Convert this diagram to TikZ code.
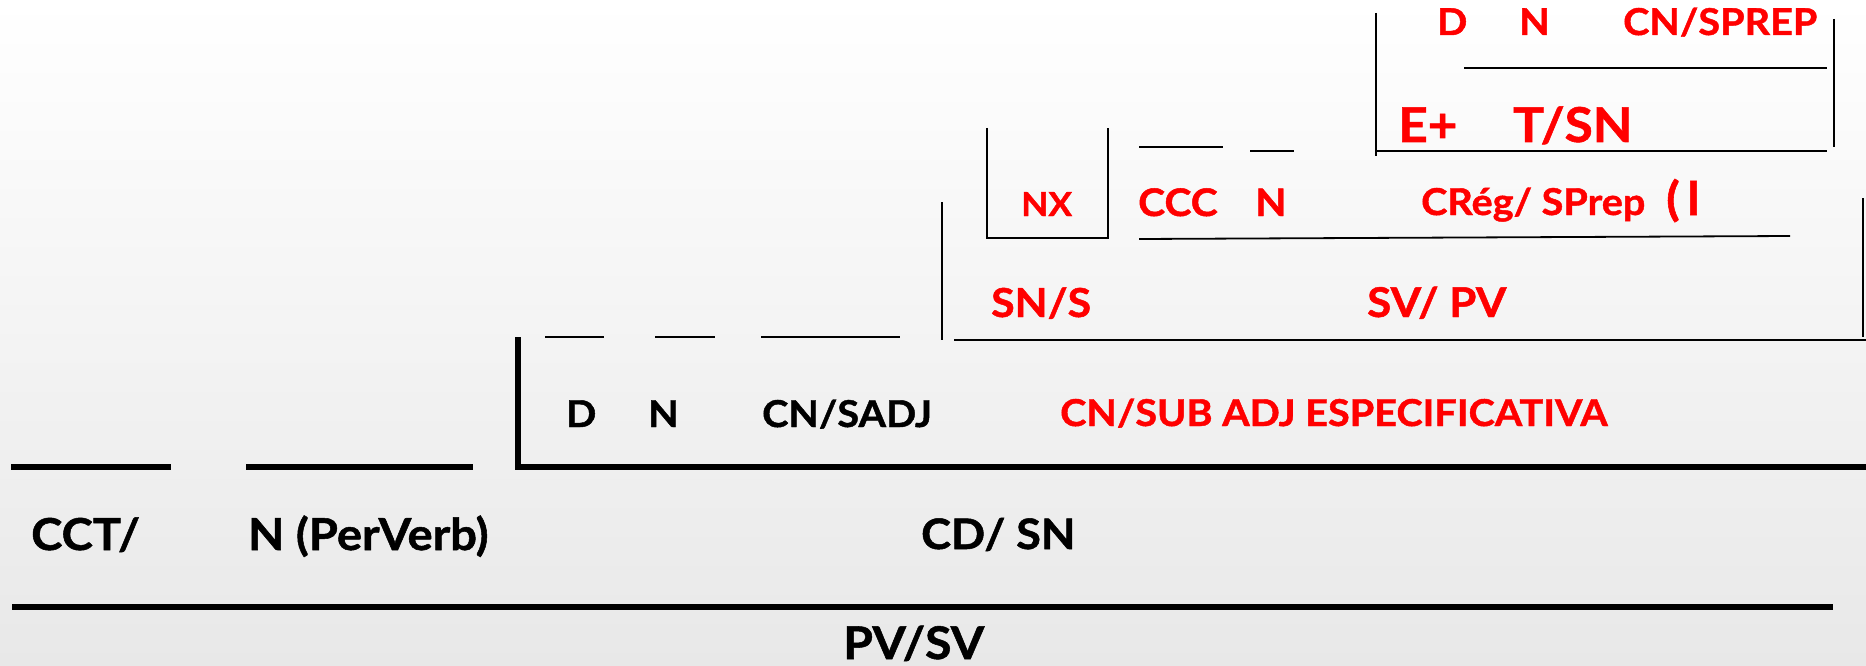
\documentclass[tikz,border=0pt]{standalone}
\usepackage{fontspec}
\setmainfont{Lato}[BoldFeatures={FakeBold=1.2,FakeStretch=1.07}]
\newcommand\fsz[1]{\fontsize{#1}{#1}\selectfont}
\begin{document}
\begin{tikzpicture}[x=1pt,y=-1pt,
  lab/.style={inner sep=0pt, anchor=base west, font=\bfseries},
  redlab/.style={lab, text=red},
  heavy/.style={line width=5.5pt},
  fine/.style={line width=1.8pt}]
\shade[top color=white, bottom color=black!9] (0,0) rectangle (1866,666);
\useasboundingbox (0,0) rectangle (1866,666);

% heavy lines
\draw[heavy] (12,607) -- (1833,607);
\draw[heavy] (11,467) -- (171,467);
\draw[heavy] (246,467) -- (473,467);
\draw[heavy] (518,337) -- (518,467) -- (1866,467);

% short lines above D N CN/SADJ
\draw[fine] (545,337) -- (604,337);
\draw[fine] (655,337) -- (715,337);
\draw[fine] (761,337) -- (900,337);

% SN/S bracket
\draw[fine] (942,202) -- (942,340);
\draw[fine] (954,340) -- (1866,340);
\draw[fine] (1863,198) -- (1863,337);

% NX box
\draw[fine] (987,128) -- (987,238) -- (1108,238) -- (1108,128);

% short lines above CCC N
\draw[fine] (1139,147) -- (1223,147);
\draw[fine] (1250,151) -- (1294,151);
% line under CCC ... CReg
\draw[fine] (1139,239) -- (1790,236);

% top box
\draw[fine] (1376,13) -- (1376,156);
\draw[fine] (1376,151) -- (1827,151);
\draw[fine] (1834,19) -- (1834,147);
\draw[fine] (1464,68) -- (1827,68);

% texts
\node[redlab, font=\bfseries\fsz{37}] (tD) at (1437,35) {D};
\node[redlab, font=\bfseries\fsz{37}] (tN) at (1519,35) {N};
\node[redlab, font=\bfseries\fsz{37}] (tCNSPREP) at (1623,35) {CN/SPREP};
\node[redlab, font=\bfseries\fsz{48}] (tE) at (1398,142) {E+};
\node[redlab, font=\bfseries\fsz{48}] (tTSN) at (1513,142) {T/SN};

\node[redlab, font=\bfseries\fsz{33}] (tNX) at (1021,216) {NX};
\node[redlab, font=\bfseries\fsz{38}] (tCCC) at (1138,216) {CCC};
\node[redlab, font=\bfseries\fsz{38}] (tN2) at (1255,216) {N};
\node[redlab, font=\bfseries\fsz{37}] (tCReg) at (1421,215) {CRég/ SPrep};
\node[redlab, font=\bfseries\fsz{46}] (tParen) at (1666,215) {(\,l};

\node[redlab, font=\bfseries\fsz{40}] (tSNS) at (991,317) {SN/S};
\node[redlab, font=\bfseries\fsz{41}] (tSVPV) at (1367,317) {SV/ PV};

\node[lab, font=\bfseries\fsz{37}] (tD2) at (566,427) {D};
\node[lab, font=\bfseries\fsz{37}] (tN3) at (648,427) {N};
\node[lab, font=\bfseries\fsz{37}] (tCNSADJ) at (762,427) {CN/SADJ};
\node[redlab, font=\bfseries\fsz{37}] (tCNSUB) at (1060,426) {CN/SUB ADJ ESPECIFICATIVA};

\node[lab, font=\bfseries\fsz{44}] (tCCT) at (31,550) {CCT/};
\node[lab, font=\bfseries\fsz{44}] (tNPer) at (248,550) {N (PerVerb)};
\node[lab, font=\bfseries\fsz{42}] (tCDSN) at (921,549) {CD/ SN};
\node[lab, font=\bfseries\fsz{45}] (tPVSV) at (843,659) {PV/SV};
\end{tikzpicture}
\end{document}
